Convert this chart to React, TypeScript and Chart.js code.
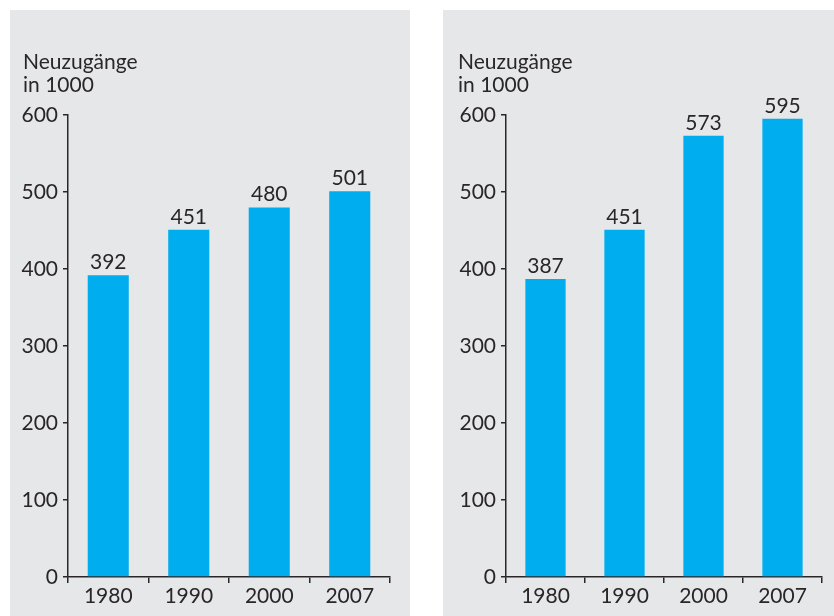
import React, { useEffect, useRef } from "react";
import { Chart, registerables } from "chart.js";

Chart.register(...registerables);

const years = ["1980", "1990", "2000", "2007"];
const valuesLeft = [392, 451, 480, 501];
const valuesRight = [387, 451, 573, 595];
const yMin = 0;
const yMax = 600;
const yStep = 100;
const axisTitle = ["Neuzugänge", "in 1000"];

const BG = "#e6e7e9";
const BAR = "#00adef";
const INK = "#2a2627";
const FONT = "Lato, 'Open Sans', sans-serif";
const FS = 21;

type PanelProps = {
  values: number[];
  left: number;
  width: number;
  axisX: number;
  rightPad: number;
  titleX: number;
};

function Panel({ values, left, width, axisX, rightPad, titleX }: PanelProps) {
  const ref = useRef<HTMLCanvasElement | null>(null);
  const height = 606;
  useEffect(() => {
    if (!ref.current) return;
    const labelPlugin = {
      id: "labels",
      afterDatasetsDraw(chart: any) {
        const ctx = chart.ctx;
        const meta = chart.getDatasetMeta(0);
        ctx.save();
        ctx.fillStyle = INK;
        ctx.font = `${FS}px ${FONT}`;
        ctx.textAlign = "center";
        ctx.textBaseline = "alphabetic";
        meta.data.forEach((bar: any, i: number) => {
          ctx.fillText(String(values[i]), bar.x, bar.y - 6);
        });
        ctx.textAlign = "left";
        ctx.fillText(axisTitle[0], titleX, 59);
        ctx.fillText(axisTitle[1], titleX, 82);
        ctx.restore();
      },
    };
    const chart = new Chart(ref.current, {
      type: "bar",
      data: {
        labels: years,
        datasets: [
          {
            data: values,
            backgroundColor: BAR,
            borderWidth: 0,
            categoryPercentage: 1,
            barPercentage: 0.51,
          },
        ],
      },
      options: {
        animation: false,
        responsive: false,
        devicePixelRatio: 1,
        layout: { padding: { left: 0, right: rightPad, top: 105, bottom: 0 } },
        plugins: { legend: { display: false }, tooltip: { enabled: false }, title: { display: false } },
        scales: {
          x: {
            grid: {
              display: true,
              drawOnChartArea: false,
              drawTicks: true,
              tickLength: 6,
              color: INK,
              lineWidth: 1.5,
              offset: true,
            },
            border: { display: true, color: INK, width: 1.5 },
            ticks: { color: INK, font: { family: FONT, size: FS }, padding: 1 },
            afterFit: (s: any) => {
              s.height = 39;
            },
          },
          y: {
            min: yMin,
            max: yMax,
            grid: {
              display: true,
              drawOnChartArea: false,
              drawTicks: true,
              tickLength: 5,
              color: INK,
              lineWidth: 1.5,
            },
            border: { display: true, color: INK, width: 1.5 },
            ticks: { stepSize: yStep, color: INK, font: { family: FONT, size: FS }, padding: 5 },
            afterFit: (s: any) => {
              s.width = axisX;
            },
          },
        },
      },
      plugins: [labelPlugin],
    });
    return () => chart.destroy();
  }, []);
  return (
    <div style={{ position: "absolute", left, top: 10, width, height, background: BG }}>
      <canvas ref={ref} width={width} height={height} style={{ width, height, display: "block" }} />
    </div>
  );
}

export default function App() {
  return (
    <div style={{ position: "absolute", left: 0, top: 0, width: 834, height: 616, background: "#fff", overflow: "hidden" }}>
      <Panel values={valuesLeft} left={10} width={400} axisX={58} rightPad={20} titleX={13} />
      <Panel values={valuesRight} left={443} width={391} axisX={63} rightPad={12} titleX={15} />
    </div>
  );
}
